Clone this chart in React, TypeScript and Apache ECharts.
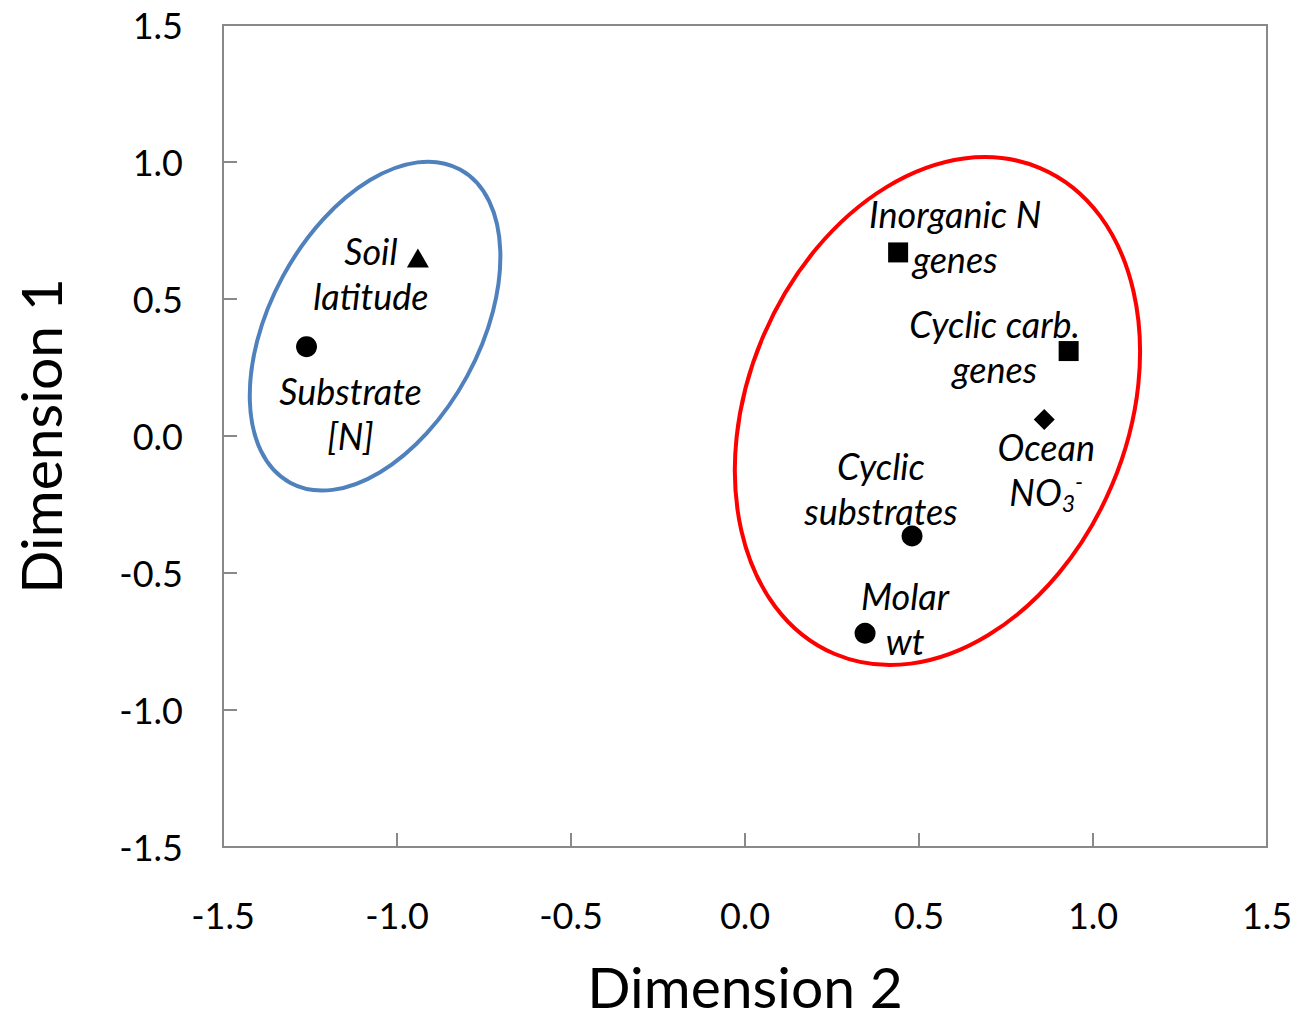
import React, { useEffect, useRef } from "react";
import * as echarts from "echarts";

// ---- data ----
const pointNames = [
  "Soil\nlatitude",
  "Substrate\n[N]",
  "Inorganic N\ngenes",
  "Cyclic carb.\ngenes",
  "Ocean\nNO{sub|3}{sup|-}",
  "Cyclic\nsubstrates",
  "Molar\nwt",
];
const dim2Values = [-0.94, -1.26, 0.44, 0.93, 0.86, 0.48, 0.345];
const dim1Values = [0.65, 0.326, 0.67, 0.31, 0.06, -0.365, -0.72];
const pointSymbols = ["triangle", "circle", "rect", "rect", "diamond", "circle", "circle"];

// groups drawn as ellipses: center (dim2, dim1), semi-axes (in x-axis units), tilt (deg, clockwise from vertical)
const groupCenterX = [-1.063, 0.553];
const groupCenterY = [0.401, 0.091];
const groupMajor = [0.512, 0.758];
const groupMinor = [0.301, 0.545];
const groupTilt = [28.5, 22.9];

const xTicks = ["-1.5", "-1.0", "-0.5", "0.0", "0.5", "1.0", "1.5"];

// ---- styles ----
const groupColors = ["#4F81BD", "#FF0000"];
const symbolSizes: any[] = [[22, 19], 21, 20, 20, 21, 21, 21];
const labelOffsets = [
  [-47, 16],
  [44, 67],
  [57, -16],
  [-74, -5],
  [2, 50],
  [-31, -48],
  [40, -15],
];
const FONT = "Lato";
const AXIS_COLOR = "#898989";

export default function App() {
  const ref = useRef<HTMLDivElement>(null);
  useEffect(() => {
    if (!ref.current) return;
    const chart = echarts.init(ref.current, null, { renderer: "svg" });

    const scatterData = dim2Values.map((x, i) => ({
      value: [x, dim1Values[i]],
      name: pointNames[i],
      symbol: pointSymbols[i],
      symbolSize: symbolSizes[i],
      label: { offset: labelOffsets[i] },
    }));

    const ellipseData = groupCenterX.map((cx, i) => [
      cx,
      groupCenterY[i],
      groupMajor[i],
      groupMinor[i],
      groupTilt[i],
    ]);

    const axisCommon = {
      type: "value",
      min: -1.5,
      max: 1.5,
      interval: 0.5,
      splitLine: { show: false },
      axisLine: { show: true, onZero: false, lineStyle: { color: AXIS_COLOR, width: 2 } },
      axisTick: { show: true, inside: true, length: 14, lineStyle: { color: AXIS_COLOR, width: 2 } },
      axisLabel: {
        color: "#000",
        fontSize: 36,
        fontFamily: FONT,
        showMinLabel: true,
        showMaxLabel: true,
        formatter: (v: number) => v.toFixed(1),
      },
      nameLocation: "middle",
      nameTextStyle: { color: "#000", fontSize: 57, lineHeight: 44, fontFamily: FONT },
    };

    chart.setOption({
      animation: false,
      backgroundColor: "#fff",
      grid: {
        left: 223,
        width: 1044,
        top: 25,
        height: 822,
        outerBoundsMode: "none",
        containLabel: false,
        show: true,
        borderColor: AXIS_COLOR,
        borderWidth: 2,
      },
      xAxis: {
        ...axisCommon,
        name: "Dimension 2",
        nameGap: 117,
        axisLabel: {
          ...axisCommon.axisLabel,
          margin: 50,
          formatter: (v: number) => xTicks[Math.round((v + 1.5) / 0.5)] ?? v.toFixed(1),
        },
      },
      yAxis: {
        ...axisCommon,
        name: "Dimension 1",
        nameGap: 161,
        axisLabel: { ...axisCommon.axisLabel, margin: 40 },
      },
      series: [
        {
          type: "custom",
          data: ellipseData,
          encode: { x: 0, y: 1 },
          clip: false,
          silent: true,
          z: 1,
          renderItem: (params: any, api: any) => {
            const c = api.coord([api.value(0), api.value(1)]);
            const unit = api.size([1, 0])[0];
            return {
              type: "ellipse",
              x: c[0],
              y: c[1],
              rotation: (-api.value(4) * Math.PI) / 180,
              shape: { cx: 0, cy: 0, rx: api.value(3) * unit, ry: api.value(2) * unit },
              style: { fill: "none", stroke: groupColors[params.dataIndex], lineWidth: 4 },
            };
          },
        },
        {
          type: "scatter",
          z: 3,
          data: scatterData,
          itemStyle: { color: "#000", opacity: 1 },
          label: {
            show: true,
            position: "inside",
            formatter: (p: any) => p.name,
            color: "#000",
            fontSize: 36,
            fontStyle: "italic",
            fontFamily: FONT,
            lineHeight: 45,
            align: "center",
            verticalAlign: "middle",
            rich: {
              sub: {
                fontSize: 23,
                fontStyle: "italic",
                fontFamily: FONT,
                color: "#000",
                verticalAlign: "bottom",
                lineHeight: 30,
                padding: [14, 0, 0, 0],
              },
              sup: {
                fontSize: 23,
                fontStyle: "italic",
                fontFamily: FONT,
                color: "#000",
                verticalAlign: "top",
                lineHeight: 30,
                padding: [0, 0, 18, 0],
              },
            },
          },
        },
      ],
    });
    return () => chart.dispose();
  }, []);

  return (
    <div
      ref={ref}
      style={{ position: "fixed", left: 0, top: 0, width: 1297, height: 1021, background: "#fff" }}
    />
  );
}
